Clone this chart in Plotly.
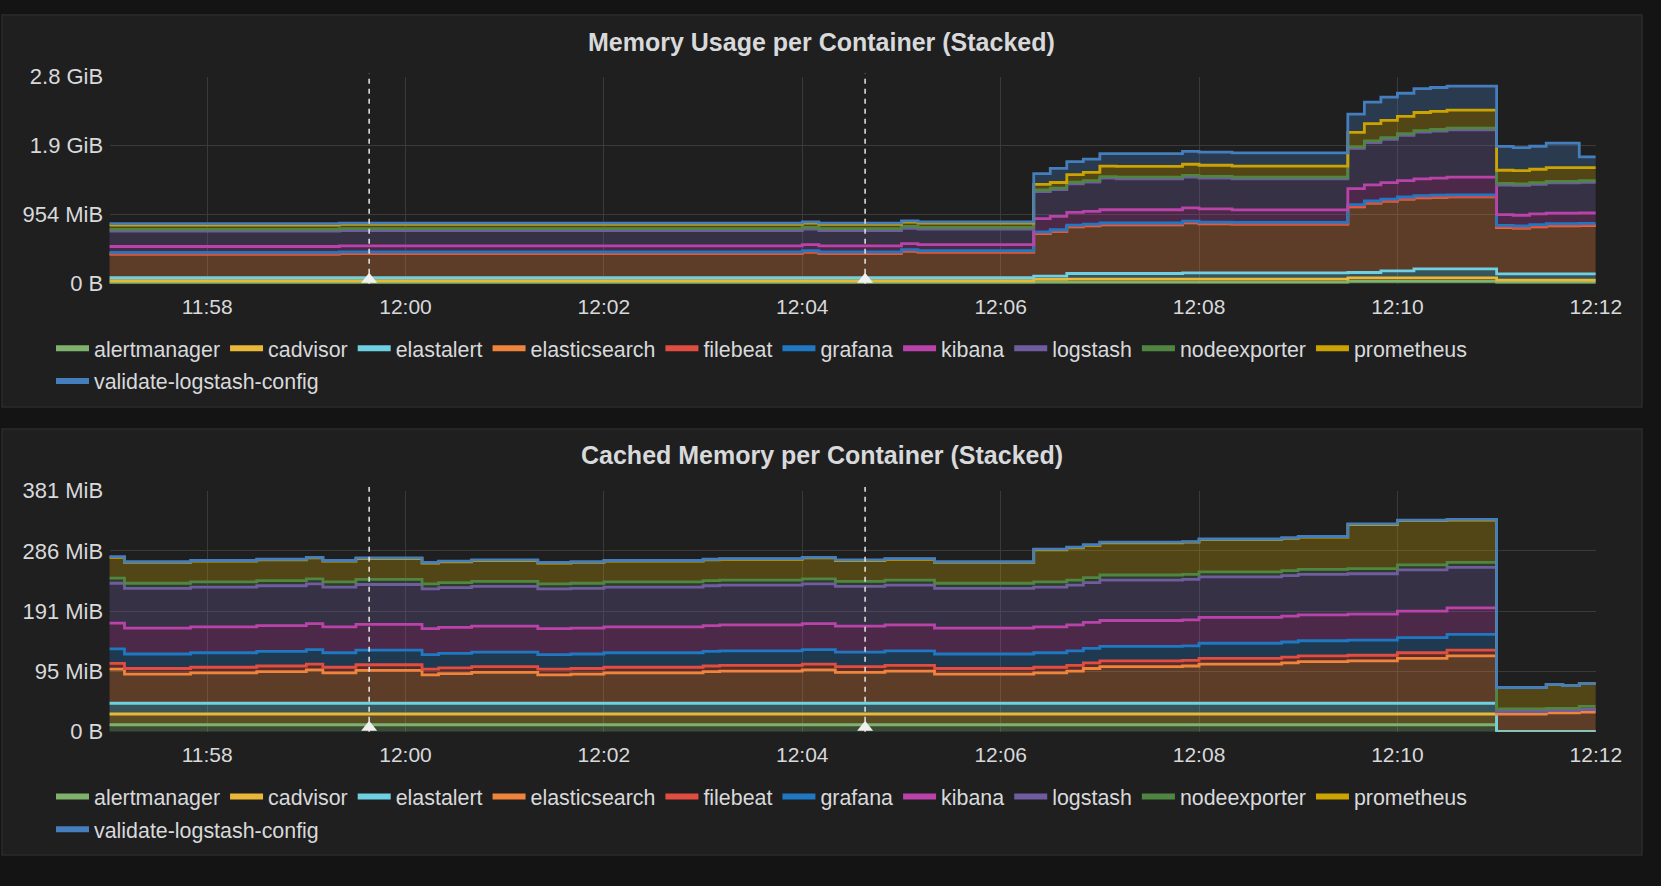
import pandas as pd
import plotly.graph_objects as go

# Sample times (10 s steps, 11:57:00 -> 12:12:00)
TIMES = pd.date_range("2018-02-20 11:57:00", "2018-02-20 12:12:00", freq="10s")

CONTAINERS = ["alertmanager", "cadvisor", "elastalert", "elasticsearch", "filebeat", "grafana",
              "kibana", "logstash", "nodeexporter", "prometheus", "validate-logstash-config"]
COLORS = ["#7EB26D", "#EAB839", "#6ED0E0", "#EF843C", "#E24D42", "#1F78C1",
          "#BA43A9", "#705DA0", "#508642", "#CCA300", "#447EBC"]

# ---- Memory usage per container (MiB) ----
usage_alertmanager = [
    8, 8, 8, 8, 8, 8, 8, 8, 8, 8,  8, 8, 8, 8, 8, 8, 8, 8, 8, 8,
    8, 8, 8, 8, 8, 8, 8, 8, 8, 8,  8, 8, 8, 8, 8, 8, 8, 8, 8, 8,
    8, 8, 8, 8, 8, 8, 8, 8, 8, 8,  8, 8, 8, 8, 8, 8, 18, 18, 18, 18,
    18, 18, 18, 18, 18, 18, 18, 18, 18, 18,  18, 18, 18, 18, 18, 32, 32, 32, 32, 32,
    32, 32, 32, 32, 18, 18, 18, 18, 18, 18,  18]
usage_cadvisor = [
    33, 33, 33, 33, 33, 33, 33, 33, 33, 33,  33, 33, 33, 33, 33, 33, 33, 33, 33, 33,
    33, 33, 33, 33, 33, 33, 33, 33, 33, 33,  33, 33, 33, 33, 33, 33, 33, 33, 33, 33,
    33, 33, 33, 33, 33, 33, 33, 33, 33, 33,  33, 33, 33, 33, 33, 33, 42, 42, 46, 46,
    46, 46, 46, 46, 46, 46, 46, 46, 46, 46,  46, 46, 46, 46, 46, 48, 48, 48, 48, 48,
    48, 48, 48, 48, 32, 32, 32, 32, 32, 32,  32]
usage_elastalert = [
    41, 41, 41, 41, 41, 41, 41, 41, 41, 41,  41, 41, 41, 41, 41, 41, 41, 41, 41, 41,
    41, 41, 41, 41, 41, 41, 41, 41, 41, 41,  41, 41, 41, 41, 41, 41, 41, 41, 41, 41,
    41, 41, 41, 41, 41, 41, 41, 41, 41, 41,  41, 41, 41, 41, 41, 41, 45, 45, 77, 77,
    77, 77, 77, 77, 77, 86, 86, 86, 86, 86,  86, 86, 86, 86, 86, 75, 75, 97, 97, 124,
    124, 124, 124, 124, 86, 86, 86, 86, 86, 86,  86]
usage_elasticsearch = [
    328, 328, 328, 328, 328, 328, 328, 328, 328, 328,  328, 328, 328, 328, 336, 336, 336, 336, 336, 336,
    336, 336, 336, 336, 336, 336, 336, 336, 336, 336,  336, 336, 336, 336, 336, 336, 336, 336, 336, 336,
    336, 336, 354, 336, 336, 336, 336, 336, 367, 354,  354, 354, 354, 354, 354, 354, 586, 617, 645, 659,
    674, 674, 674, 674, 674, 691, 677, 677, 673, 673,  673, 673, 673, 673, 673, 908, 958, 963, 991, 982,
    991, 995, 995, 995, 641, 632, 650, 664, 664, 668,  668]
usage_filebeat = [
    6, 6, 6, 6, 6, 6, 6, 6, 6, 6,  6, 6, 6, 6, 6, 6, 6, 6, 6, 6,
    6, 6, 6, 6, 6, 6, 6, 6, 6, 6,  6, 6, 6, 6, 6, 6, 6, 6, 6, 6,
    6, 6, 6, 6, 6, 6, 6, 6, 6, 6,  6, 6, 6, 6, 6, 6, 6, 6, 6, 6,
    6, 6, 6, 6, 6, 6, 6, 6, 6, 6,  6, 6, 6, 6, 6, 6, 6, 6, 6, 6,
    6, 6, 6, 6, 6, 6, 6, 6, 6, 6,  6]
usage_grafana = [
    16, 16, 16, 16, 16, 16, 16, 16, 16, 16,  16, 16, 16, 16, 16, 16, 16, 16, 16, 16,
    16, 16, 16, 16, 16, 16, 16, 16, 16, 16,  16, 16, 16, 16, 16, 16, 16, 16, 16, 16,
    16, 16, 16, 16, 16, 16, 16, 16, 16, 16,  16, 16, 16, 16, 16, 16, 18, 18, 18, 18,
    18, 18, 18, 18, 18, 18, 18, 18, 18, 18,  18, 18, 18, 18, 18, 24, 24, 24, 24, 24,
    24, 24, 24, 24, 24, 24, 24, 24, 24, 24,  24]
usage_kibana = [
    82, 82, 82, 82, 82, 82, 82, 82, 82, 82,  82, 82, 82, 82, 82, 82, 82, 82, 82, 82,
    82, 82, 82, 82, 82, 82, 82, 82, 82, 82,  82, 82, 82, 82, 82, 82, 82, 82, 82, 82,
    82, 82, 82, 82, 82, 82, 82, 82, 82, 82,  82, 82, 82, 82, 82, 82, 185, 185, 175, 175,
    183, 183, 183, 183, 183, 183, 183, 183, 172, 172,  172, 172, 172, 172, 172, 222, 222, 227, 227, 234,
    234, 244, 244, 244, 148, 148, 148, 145, 145, 145,  145]
usage_logstash = [
    213, 213, 213, 213, 213, 213, 213, 213, 213, 213,  213, 213, 213, 213, 213, 213, 213, 213, 213, 213,
    213, 213, 213, 213, 213, 213, 213, 213, 213, 213,  213, 213, 213, 213, 213, 213, 213, 213, 213, 213,
    213, 213, 213, 213, 213, 213, 213, 213, 213, 213,  213, 213, 213, 213, 213, 213, 373, 368, 395, 405,
    436, 428, 428, 428, 428, 426, 427, 427, 430, 430,  430, 430, 430, 430, 430, 554, 586, 599, 627, 644,
    650, 654, 654, 654, 409, 413, 409, 418, 418, 422,  422]
usage_nodeexporter = [
    25, 25, 25, 25, 25, 25, 25, 25, 25, 25,  25, 25, 25, 25, 25, 25, 25, 25, 25, 25,
    25, 25, 25, 25, 25, 25, 25, 25, 25, 25,  25, 25, 25, 25, 25, 25, 25, 25, 25, 25,
    25, 25, 25, 25, 25, 25, 25, 25, 25, 25,  25, 25, 25, 25, 25, 25, 22, 22, 22, 22,
    22, 22, 22, 22, 22, 22, 22, 22, 22, 22,  22, 22, 22, 22, 22, 22, 22, 22, 22, 22,
    22, 22, 22, 22, 22, 22, 22, 22, 22, 22,  22]
usage_prometheus = [
    59, 59, 59, 59, 59, 59, 59, 59, 59, 59,  59, 59, 59, 59, 59, 59, 59, 59, 59, 59,
    59, 59, 59, 59, 59, 59, 59, 59, 59, 59,  59, 59, 59, 59, 59, 59, 59, 59, 59, 59,
    59, 59, 59, 59, 59, 59, 59, 59, 59, 59,  59, 59, 59, 59, 59, 59, 77, 78, 105, 113,
    146, 150, 150, 150, 150, 155, 154, 154, 154, 154,  154, 154, 154, 154, 154, 201, 240, 240, 240, 250,
    250, 250, 250, 250, 182, 182, 187, 190, 190, 181,  181]
usage_validate = [
    18, 18, 18, 18, 18, 18, 18, 18, 18, 18,  18, 18, 18, 18, 18, 18, 18, 18, 18, 18,
    18, 18, 18, 18, 18, 18, 18, 18, 18, 18,  18, 18, 18, 18, 18, 18, 18, 18, 18, 18,
    18, 18, 18, 18, 18, 18, 18, 18, 18, 18,  18, 18, 18, 18, 18, 18, 150, 195, 181, 182,
    172, 177, 177, 177, 177, 177, 182, 182, 182, 182,  182, 182, 182, 182, 182, 253, 296, 322, 318, 331,
    331, 331, 331, 331, 331, 318, 318, 337, 337, 150,  150]

# ---- Cached memory per container (MiB) ----
cache_alertmanager = [
    11, 11, 11, 11, 11, 11, 11, 11, 11, 11,  11, 11, 11, 11, 11, 11, 11, 11, 11, 11,
    11, 11, 11, 11, 11, 11, 11, 11, 11, 11,  11, 11, 11, 11, 11, 11, 11, 11, 11, 11,
    11, 11, 11, 11, 11, 11, 11, 11, 11, 11,  11, 11, 11, 11, 11, 11, 11, 11, 11, 11,
    11, 11, 11, 11, 11, 11, 11, 11, 11, 11,  11, 11, 11, 11, 11, 11, 11, 11, 11, 11,
    11, 11, 11, 11, 0, 0, 0, 0, 0, 0,  0]
cache_cadvisor = [
    17, 17, 17, 17, 17, 17, 17, 17, 17, 17,  17, 17, 17, 17, 17, 17, 17, 17, 17, 17,
    17, 17, 17, 17, 17, 17, 17, 17, 17, 17,  17, 17, 17, 17, 17, 17, 17, 17, 17, 17,
    17, 17, 17, 17, 17, 17, 17, 17, 17, 17,  17, 17, 17, 17, 17, 17, 17, 17, 17, 17,
    17, 17, 17, 17, 17, 17, 17, 17, 17, 17,  17, 17, 17, 17, 17, 17, 17, 17, 17, 17,
    17, 17, 17, 17, 0, 0, 0, 0, 0, 0,  0]
cache_elastalert = [
    17, 17, 17, 17, 17, 17, 17, 17, 17, 17,  17, 17, 17, 17, 17, 17, 17, 17, 17, 17,
    17, 17, 17, 17, 17, 17, 17, 17, 17, 17,  17, 17, 17, 17, 17, 17, 17, 17, 17, 17,
    17, 17, 17, 17, 17, 17, 17, 17, 17, 17,  17, 17, 17, 17, 17, 17, 17, 17, 17, 17,
    17, 17, 17, 17, 17, 17, 17, 17, 17, 17,  17, 17, 17, 17, 17, 17, 17, 17, 17, 17,
    17, 17, 17, 17, 0, 0, 0, 0, 0, 0,  0]
cache_elasticsearch = [
    54, 46, 46, 46, 46, 48, 48, 48, 48, 50,  50, 50, 53, 48, 48, 52, 52, 52, 52, 45,
    47, 47, 49, 49, 49, 49, 45, 45, 46, 46,  48, 48, 48, 48, 48, 48, 50, 51, 51, 51,
    51, 51, 53, 53, 49, 49, 49, 51, 51, 51,  46, 46, 46, 46, 46, 46, 48, 48, 51, 55,
    58, 58, 58, 58, 58, 59, 62, 62, 62, 62,  62, 64, 66, 66, 66, 67, 67, 67, 71, 71,
    71, 75, 75, 75, 28, 28, 28, 30, 30, 31,  31]
cache_filebeat = [
    9, 9, 9, 9, 9, 9, 9, 9, 9, 9,  9, 9, 9, 9, 9, 9, 9, 9, 9, 9,
    9, 9, 9, 9, 9, 9, 9, 9, 9, 9,  9, 9, 9, 9, 9, 9, 9, 9, 9, 9,
    9, 9, 9, 9, 9, 9, 9, 9, 9, 9,  9, 9, 9, 9, 9, 9, 9, 9, 9, 9,
    9, 9, 9, 9, 9, 9, 9, 9, 9, 9,  9, 9, 9, 9, 9, 9, 9, 9, 9, 9,
    9, 9, 9, 9, 4, 4, 4, 4, 4, 4,  4]
cache_grafana = [
    23, 23, 23, 23, 23, 23, 23, 23, 23, 23,  23, 23, 23, 23, 23, 23, 23, 23, 23, 23,
    23, 23, 23, 23, 23, 23, 23, 23, 23, 23,  23, 23, 23, 23, 23, 23, 23, 23, 23, 23,
    23, 23, 23, 23, 23, 23, 23, 23, 23, 23,  23, 23, 23, 23, 23, 23, 23, 23, 23, 23,
    23, 23, 23, 23, 23, 23, 24, 24, 24, 24,  24, 24, 24, 24, 24, 24, 24, 24, 24, 24,
    24, 25, 25, 25, 0, 0, 0, 0, 0, 0,  0]
cache_kibana = [
    41, 41, 41, 41, 41, 41, 41, 41, 41, 41,  41, 41, 41, 41, 41, 41, 41, 41, 41, 41,
    41, 41, 41, 41, 41, 41, 41, 41, 41, 41,  41, 41, 41, 41, 41, 41, 41, 41, 41, 41,
    41, 41, 41, 41, 41, 41, 41, 41, 41, 41,  41, 41, 41, 41, 41, 41, 41, 41, 41, 41,
    41, 41, 41, 41, 41, 41, 41, 41, 41, 41,  41, 41, 41, 41, 41, 41, 41, 41, 42, 42,
    42, 42, 42, 42, 0, 0, 0, 0, 0, 0,  0]
cache_logstash = [
    63, 63, 63, 63, 63, 63, 63, 63, 63, 63,  63, 63, 63, 63, 63, 63, 63, 63, 63, 63,
    63, 63, 63, 63, 63, 63, 63, 63, 63, 63,  63, 63, 63, 63, 63, 63, 63, 63, 63, 63,
    63, 63, 63, 63, 63, 63, 63, 63, 63, 63,  63, 63, 63, 63, 63, 63, 63, 63, 63, 63,
    64, 64, 64, 64, 64, 64, 64, 64, 64, 64,  64, 64, 64, 64, 64, 64, 64, 64, 65, 65,
    65, 64, 64, 64, 0, 0, 0, 0, 0, 0,  0]
cache_nodeexporter = [
    8, 8, 8, 8, 8, 8, 8, 8, 8, 8,  8, 8, 8, 8, 8, 8, 8, 8, 8, 8,
    8, 8, 8, 8, 8, 8, 8, 8, 8, 8,  8, 8, 8, 8, 8, 8, 8, 8, 8, 8,
    8, 8, 8, 8, 8, 8, 8, 8, 8, 8,  8, 8, 8, 8, 8, 8, 8, 8, 8, 8,
    8, 8, 8, 8, 8, 8, 8, 8, 8, 8,  8, 8, 8, 8, 8, 8, 8, 8, 8, 8,
    8, 8, 8, 8, 4, 4, 4, 3, 3, 5,  5]
cache_prometheus = [
    33, 33, 33, 33, 33, 33, 33, 33, 33, 33,  33, 33, 33, 33, 33, 33, 33, 33, 33, 33,
    33, 33, 33, 33, 33, 33, 33, 33, 33, 33,  33, 33, 33, 33, 33, 33, 33, 33, 33, 33,
    33, 33, 33, 33, 33, 33, 33, 33, 33, 33,  33, 33, 33, 33, 33, 33, 51, 51, 51, 51,
    51, 51, 51, 51, 51, 51, 51, 51, 51, 51,  51, 51, 51, 51, 51, 70, 70, 70, 70, 70,
    70, 67, 67, 67, 34, 34, 34, 38, 36, 36,  36]
cache_validate = [
    1, 1, 1, 1, 1, 1, 1, 1, 1, 1,  1, 1, 1, 1, 1, 1, 1, 1, 1, 1,
    1, 1, 1, 1, 1, 1, 1, 1, 1, 1,  1, 1, 1, 1, 1, 1, 1, 1, 1, 1,
    1, 1, 1, 1, 1, 1, 1, 1, 1, 1,  1, 1, 1, 1, 1, 1, 1, 1, 1, 1,
    1, 1, 1, 1, 1, 1, 1, 1, 1, 1,  1, 1, 1, 1, 1, 1, 1, 1, 1, 1,
    1, 1, 1, 1, 0, 0, 0, 0, 0, 0,  0]

USAGE = [usage_alertmanager, usage_cadvisor, usage_elastalert, usage_elasticsearch, usage_filebeat,
         usage_grafana, usage_kibana, usage_logstash, usage_nodeexporter, usage_prometheus, usage_validate]
CACHE = [cache_alertmanager, cache_cadvisor, cache_elastalert, cache_elasticsearch, cache_filebeat,
         cache_grafana, cache_kibana, cache_logstash, cache_nodeexporter, cache_prometheus, cache_validate]

# y ticks are decimal byte steps shown in binary units
MIB = 2 ** 20
USAGE_TICKS = [0, 1e9 / MIB, 2e9 / MIB, 3e9 / MIB]
USAGE_TICK_TEXT = ["0 B", "954 MiB", "1.9 GiB", "2.8 GiB"]
CACHE_TICKS = [0, 1e8 / MIB, 2e8 / MIB, 3e8 / MIB, 4e8 / MIB]
CACHE_TICK_TEXT = ["0 B", "95 MiB", "191 MiB", "286 MiB", "381 MiB"]

ANNOTATION_TIMES = ["2018-02-20 11:59:38", "2018-02-20 12:04:38"]

PAGE_BG = "#141414"
PANEL_BG = "#1f1f20"
TEXT = "#d8d9da"
GRID = "#3a3a3a"
FONT = "Liberation Sans, Arial, sans-serif"
W, H = 1661, 886


def rgba(hex_color, alpha):
    h = hex_color.lstrip("#")
    r, g, b = int(h[0:2], 16), int(h[2:4], 16), int(h[4:6], 16)
    return f"rgba({r},{g},{b},{alpha})"


fig = go.Figure()

# stacked areas
for group, series, xa, ya in [("usage", USAGE, "x", "y"), ("cache", CACHE, "x2", "y2")]:
    for name, color, values in zip(CONTAINERS, COLORS, series):
        fig.add_trace(go.Scatter(
            x=TIMES, y=values, name=name, stackgroup=group, xaxis=xa, yaxis=ya,
            mode="lines", line=dict(color=color, width=2.8, shape="hv"),
            fillcolor=rgba(color, 0.3), showlegend=False, hoverinfo="skip"))

# legend entries (grafana style swatches), last one sits on its own row
for i, (name, color) in enumerate(zip(CONTAINERS, COLORS)):
    last = i == len(CONTAINERS) - 1
    for legend_id, legend_row2, xa, ya in [("legend", "legend3", "x", "y"), ("legend2", "legend4", "x2", "y2")]:
        fig.add_trace(go.Scatter(
            x=[None], y=[None], name=name, mode="lines", xaxis=xa, yaxis=ya,
            line=dict(color=color, width=6), legend=legend_row2 if last else legend_id,
            hoverinfo="skip"))


def px_x(p):
    return p / W


def px_y(p):
    return 1 - p / H


# panel boxes
shapes = []
for top, bottom in [(15, 407), (429, 855)]:
    shapes.append(dict(type="rect", xref="paper", yref="paper", layer="below",
                       x0=px_x(2), x1=px_x(1642), y0=px_y(bottom), y1=px_y(top),
                       fillcolor=PANEL_BG, line=dict(color="#2b2b2b", width=1.5)))

# event annotations: dashed line + small triangle at the bottom
for xa, ya in [("x", "y"), ("x2", "y2")]:
    for t in ANNOTATION_TIMES:
        shapes.append(dict(type="line", xref=xa, yref=f"{ya} domain", x0=t, x1=t, y0=0, y1=1.015,
                           line=dict(color="#e8e8e8", width=1.5, dash="5px,5px")))
        shapes.append(dict(type="path", xref=xa, yref=ya, xsizemode="pixel", ysizemode="pixel",
                           xanchor=t, yanchor=0, path="M-8,1 L8,1 L0,11 Z",
                           fillcolor="#f0f0f0", line=dict(width=0)))

x_range = ["2018-02-20 11:57:01", "2018-02-20 12:12:00"]
axis_x = dict(type="date", range=x_range, tickformat="%H:%M", dtick=120000,
              tick0="2018-02-20 11:58:00", showgrid=True, gridcolor=GRID, gridwidth=1,
              zeroline=False, showline=False, ticks="outside", ticklen=4,
              tickcolor="rgba(0,0,0,0)", tickfont=dict(size=21, color=TEXT, family=FONT),
              automargin=False, fixedrange=True)

fig.update_layout(
    width=W, height=H, autosize=False,
    margin=dict(l=0, r=0, t=0, b=0, pad=0, autoexpand=False),
    paper_bgcolor=PAGE_BG, plot_bgcolor="rgba(0,0,0,0)",
    font=dict(family=FONT, color=TEXT),
    showlegend=True,
    xaxis=dict(axis_x, domain=[px_x(109.6), px_x(1595.8)], anchor="y"),
    xaxis2=dict(axis_x, domain=[px_x(109.6), px_x(1595.8)], anchor="y2"),
    yaxis=dict(domain=[px_y(283.7), px_y(76.7)], range=[0, 3e9 / MIB], anchor="x",
               tickvals=USAGE_TICKS, ticktext=USAGE_TICK_TEXT),
    yaxis2=dict(domain=[px_y(731.7), px_y(490.7)], range=[0, 4e8 / MIB], anchor="x2",
                tickvals=CACHE_TICKS, ticktext=CACHE_TICK_TEXT),
    shapes=shapes,
    hovermode=False,
)
fig.update_yaxes(showgrid=True, gridcolor=GRID, gridwidth=1, zeroline=False, showline=False,
                 ticks="outside", ticklen=1, tickcolor="rgba(0,0,0,0)", automargin=False,
                 tickfont=dict(size=22, color=TEXT, family=FONT), fixedrange=True)

legend_style = dict(orientation="h", xanchor="left", yanchor="middle", bgcolor="rgba(0,0,0,0)",
                    font=dict(size=21.4, color=TEXT, family=FONT), itemclick=False,
                    itemdoubleclick=False, traceorder="normal", itemwidth=33)
fig.update_layout(
    legend=dict(legend_style, x=px_x(51), y=px_y(348.3)),
    legend3=dict(legend_style, x=px_x(51), y=px_y(381)),
    legend2=dict(legend_style, x=px_x(51), y=px_y(796.7)),
    legend4=dict(legend_style, x=px_x(51), y=px_y(829.3)),
)

# panel titles
for title, ypos in [("Memory Usage per Container (Stacked)", 42),
                    ("Cached Memory per Container (Stacked)", 455)]:
    fig.add_annotation(text=f"<b>{title}</b>", xref="paper", yref="paper",
                       x=px_x(821.5), y=px_y(ypos), xanchor="center", yanchor="middle",
                       showarrow=False, font=dict(size=25, color=TEXT, family=FONT))

# the page itself should have no margin/scrollbars so the figure fills the window exactly
page_css = ("document.documentElement.style.margin='0';"
            "document.body.style.margin='0';"
            "document.body.style.overflow='hidden';"
            "document.body.style.background='#141414';")
fig.write_html("out.html", config={"displayModeBar": False}, post_script=page_css)
